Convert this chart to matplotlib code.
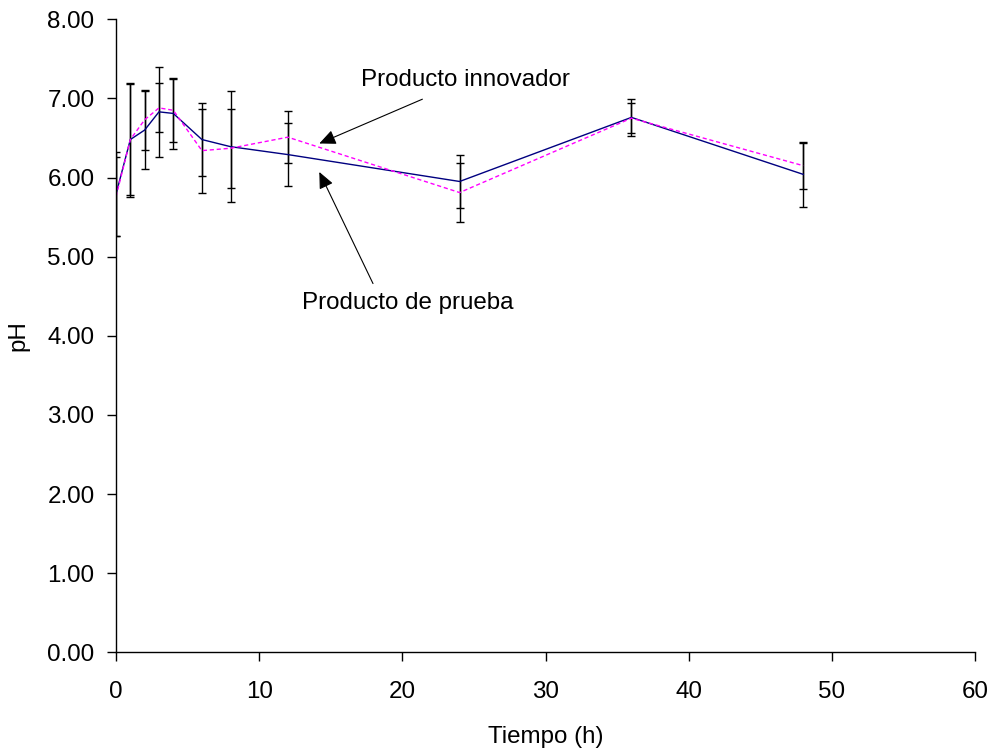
import matplotlib.pyplot as plt

plt.rcParams['font.family'] = ['Liberation Sans', 'DejaVu Sans']

# Time points (h)
tiempo = [0, 1, 2, 3, 4, 6, 8, 12, 24, 36, 48]

# pH - Producto de prueba (solid navy)
ph_prueba = [5.79, 6.48, 6.60, 6.83, 6.81, 6.48, 6.39, 6.29, 5.95, 6.76, 6.04]
err_prueba = [0.53, 0.70, 0.49, 0.57, 0.45, 0.46, 0.70, 0.40, 0.34, 0.23, 0.41]

# pH - Producto innovador (dashed magenta)
ph_innovador = [5.76, 6.48, 6.73, 6.88, 6.85, 6.34, 6.37, 6.51, 5.81, 6.75, 6.15]
err_innovador = [0.50, 0.72, 0.38, 0.31, 0.40, 0.53, 0.50, 0.33, 0.37, 0.19, 0.29]

x_ticks = [0, 10, 20, 30, 40, 50, 60]
y_ticks = [0, 1, 2, 3, 4, 5, 6, 7, 8]

FS = 17.4

fig = plt.figure(figsize=(9.95, 7.5), dpi=100)
ax = fig.add_axes([0.1166, 0.1303, 0.8633, 0.844])

# error bars first, lines on top
ax.errorbar(tiempo, ph_prueba, yerr=err_prueba, fmt='none', ecolor='black',
            elinewidth=1, capsize=3, capthick=1)
ax.errorbar(tiempo, ph_innovador, yerr=err_innovador, fmt='none', ecolor='black',
            elinewidth=1, capsize=3, capthick=1)
ax.plot(tiempo, ph_prueba, color='#000080', lw=1)
ax.plot(tiempo, ph_innovador, color='#ff00ff', lw=1, dashes=(3, 2))

ax.set_xlim(0, 60)
ax.set_ylim(0, 8)
ax.set_xticks(x_ticks)
ax.set_yticks(y_ticks)
ax.set_yticklabels([f"{v:.2f}" for v in y_ticks])

for s in ['top', 'right']:
    ax.spines[s].set_visible(False)
for s in ['left', 'bottom']:
    ax.spines[s].set_linewidth(1)

ax.tick_params(axis='both', direction='out', length=6.5, width=1, labelsize=FS)
ax.tick_params(axis='y', pad=9)
ax.tick_params(axis='x', pad=14)

ax.set_xlabel("Tiempo (h)", fontsize=FS, labelpad=17)
ax.set_ylabel("pH", fontsize=FS, labelpad=13)

# annotations with arrows
arrow = dict(arrowstyle='-|>,head_length=1.0,head_width=0.45', color='black', lw=0.8,
             shrinkA=0, shrinkB=0)
ax.annotate("", xy=(14.2, 6.43), xytext=(21.4, 6.99), arrowprops=arrow)
ax.text(24.4, 7.23, "Producto innovador", fontsize=FS, ha='center', va='center')
ax.annotate("", xy=(14.2, 6.07), xytext=(17.95, 4.66), arrowprops=arrow)
ax.text(20.4, 4.42, "Producto de prueba", fontsize=FS, ha='center', va='center')

fig.savefig('out.png', dpi=100)
